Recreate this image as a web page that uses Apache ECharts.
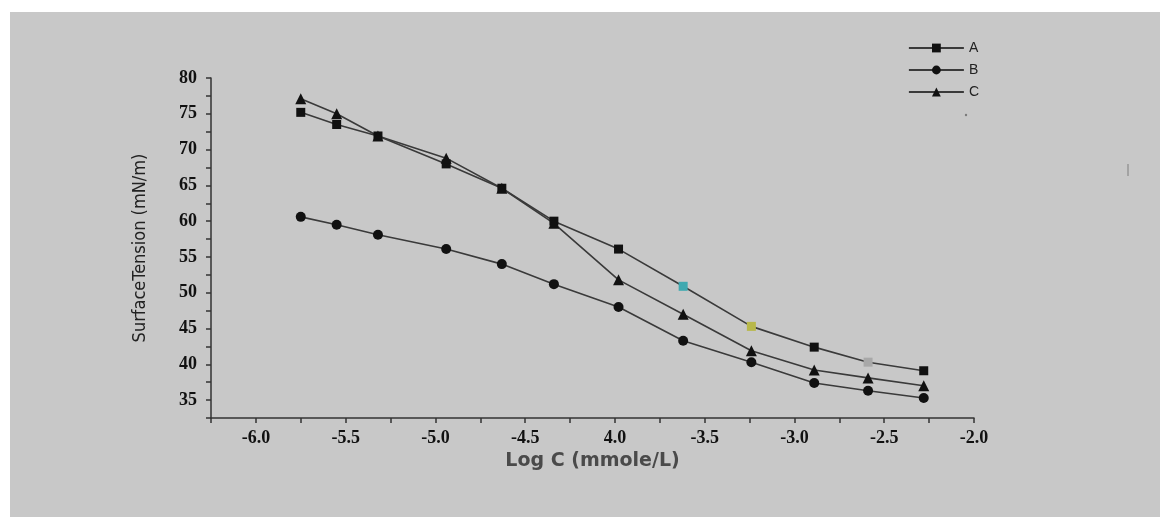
<!DOCTYPE html>
<html>
<head>
<meta charset="utf-8">
<script src="https://cdn.jsdelivr.net/npm/echarts@6/dist/echarts.min.js"></script>
<style>
html,body{margin:0;padding:0;background:#fff;width:1160px;height:517px;overflow:hidden;}
#chart{position:absolute;left:10px;top:12px;width:1150px;height:505px;}
</style>
</head>
<body>
<div id="chart"></div>
<script>
// Data
const logC = [-5.75, -5.55, -5.32, -4.94, -4.63, -4.34, -3.98, -3.62, -3.24, -2.89, -2.59, -2.28];
const seriesA = [75.2, 73.5, 71.9, 68.0, 64.6, 60.0, 56.1, 50.9, 45.3, 42.4, 40.3, 39.1];
const seriesB = [60.6, 59.5, 58.1, 56.1, 54.0, 51.2, 48.0, 43.3, 40.3, 37.4, 36.3, 35.3];
const seriesC = [77.1, 75.0, 71.9, 68.8, 64.6, 59.7, 51.8, 47.0, 41.9, 39.2, 38.1, 37.0];
const seriesNames = ['A', 'B', 'C'];
const xTickValues = [-6.0, -5.5, -5.0, -4.5, -4.0, -3.5, -3.0, -2.5, -2.0];
const xTickLabels = ['-6.0', '-5.5', '-5.0', '-4.5', '4.0', '-3.5', '-3.0', '-2.5', '-2.0'];
const yTickValues = [35, 40, 45, 50, 55, 60, 65, 70, 75, 80];
const yTickLabels = ['35', '40', '45', '50', '55', '60', '65', '70', '75', '80'];

// scan-artefact tints on some A markers (style only)
const aTint = {7: '#3fa9b0', 8: '#b8b84a', 10: '#a8a8a8'};

function pairs(ys, tint) {
  return logC.map((x, i) => {
    const item = {value: [x, ys[i]]};
    if (tint && tint[i]) item.itemStyle = {color: tint[i]};
    return item;
  });
}
function findLabel(vals, labels, v) {
  for (let i = 0; i < vals.length; i++) if (Math.abs(vals[i] - v) < 1e-6) return labels[i];
  return '';
}

const chart = echarts.init(document.getElementById('chart'), null, {renderer: 'canvas'});
const lineStyle = {color: '#3a3a3a', width: 1.6};
const mk = (name, data, symbol, size) => ({
  name, type: 'line', data, symbol, symbolSize: size,
  lineStyle, itemStyle: {color: '#111', borderWidth: 0},
  emphasis: {disabled: true}, animation: false
});

chart.setOption({
  backgroundColor: '#c8c8c8',
  animation: false,
  grid: {left: 201, right: 186, top: 66, bottom: 99},
  legend: {
    orient: 'vertical', right: 176, top: 24,
    itemWidth: 55, itemHeight: 11, itemGap: 8,
    textStyle: {fontFamily: 'Liberation Sans', fontSize: 14, color: '#222'},
    data: seriesNames
  },
  graphic: [
    {type: 'line', shape: {x1: 1118, y1: 152, x2: 1118, y2: 164}, style: {stroke: '#8a8a8a', lineWidth: 1.2}, silent: true},
    {type: 'circle', shape: {cx: 956, cy: 103, r: 1.2}, style: {fill: '#7a7a7a'}, silent: true}
  ],
  xAxis: {
    type: 'value', min: -6.25, max: -2.0, interval: 0.25,
    name: 'Log C (mmole/L)', nameLocation: 'middle', nameGap: 32,
    nameTextStyle: {fontFamily: 'DejaVu Sans', fontWeight: 'bold', fontSize: 19, color: '#4a4a4a'},
    axisLine: {lineStyle: {color: '#333', width: 1.5}},
    axisTick: {show: true, length: 5, lineStyle: {color: '#333', width: 1.5}},
    axisLabel: {
      margin: 11, fontFamily: 'Liberation Serif', fontWeight: 'bold', fontSize: 18, color: '#111',
      formatter: v => findLabel(xTickValues, xTickLabels, v)
    },
    splitLine: {show: false}
  },
  yAxis: {
    type: 'value', min: 32.5, max: 80, interval: 2.5,
    name: 'SurfaceTension (mN/m)', nameLocation: 'middle', nameGap: 62, nameRotate: 90,
    nameTextStyle: {fontFamily: "'DejaVu Sans Condensed', 'Liberation Sans', sans-serif", fontSize: 18, color: '#222'},
    axisLine: {lineStyle: {color: '#333', width: 1.5}},
    axisTick: {show: true, length: 5, lineStyle: {color: '#333', width: 1.5}},
    axisLabel: {
      margin: 14, fontFamily: 'Liberation Serif', fontWeight: 'bold', fontSize: 18, color: '#111',
      formatter: v => findLabel(yTickValues, yTickLabels, v)
    },
    splitLine: {show: false}
  },
  series: [
    mk(seriesNames[0], pairs(seriesA, aTint), 'rect', 9),
    mk(seriesNames[1], pairs(seriesB), 'circle', 10),
    mk(seriesNames[2], pairs(seriesC), 'triangle', 11)
  ]
});
</script>
</body>
</html>
